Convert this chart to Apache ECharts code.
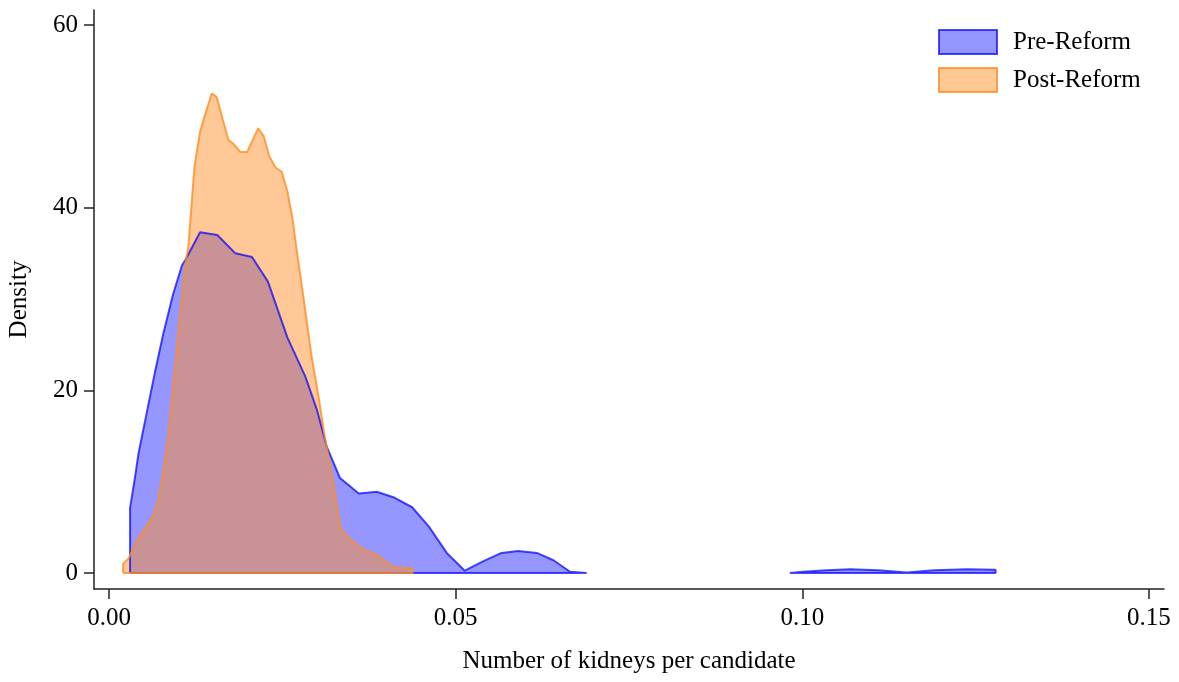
<!DOCTYPE html>
<html>
<head>
<meta charset="utf-8">
<script src="https://cdn.jsdelivr.net/npm/echarts@6/dist/echarts.min.js"></script>
<style>
  html, body { margin: 0; padding: 0; background: #fff; }
  #chart { width: 1179px; height: 682px; }
</style>
</head>
<body>
<div id="chart"></div>
<script>
// density estimates; null = gap in the curve
var preX = [0.0030, 0.0030, 0.0037, 0.0042, 0.0054, 0.0066, 0.0078, 0.0092, 0.0105, 0.0110, 0.0131, 0.0156, 0.0182, 0.0206, 0.0229, 0.0257, 0.0283, 0.0300, 0.0314, 0.0333, 0.0360, 0.0386, 0.0410, 0.0437, 0.0461, 0.0487, 0.0513, 0.0540, 0.0566, 0.0590, 0.0617, 0.0641, 0.0665, 0.0689, 0.0030,
  null,
  0.0982, 0.1001, 0.1035, 0.1069, 0.1110, 0.1151, 0.1190, 0.1237, 0.1279, 0.1279, 0.0982];
var preY = [0, 7.1, 10.4, 13.0, 17.5, 22.0, 26.2, 30.5, 33.7, 34.3, 37.3, 37.0, 35.0, 34.6, 31.9, 25.8, 21.5, 17.8, 13.8, 10.4, 8.7, 8.9, 8.3, 7.2, 5.1, 2.2, 0.25, 1.3, 2.2, 2.4, 2.2, 1.4, 0.14, 0, 0,
  null,
  0, 0.15, 0.3, 0.4, 0.3, 0.05, 0.3, 0.4, 0.35, 0, 0];

var postX = [0.0020, 0.0020, 0.0028, 0.0040, 0.0050, 0.0063, 0.0071, 0.0078, 0.0086, 0.0100, 0.0110, 0.0114, 0.0123, 0.0131, 0.0138, 0.0148, 0.0155, 0.0164, 0.0172, 0.0179, 0.0189, 0.0199, 0.0215, 0.0223, 0.0231, 0.0240, 0.0249, 0.0257, 0.0264, 0.0270, 0.0280, 0.0292, 0.0302, 0.0311, 0.0323, 0.0333, 0.0343, 0.0367, 0.0376, 0.0388, 0.0405, 0.0413, 0.0437, 0.0438, 0.0020];
var postY = [0, 1.0, 1.6, 3.6, 4.7, 6.2, 8.1, 11.1, 15.4, 26.6, 33.9, 35.6, 44.5, 48.3, 50.1, 52.5, 52.1, 49.6, 47.4, 47.0, 46.1, 46.1, 48.7, 47.8, 45.6, 44.4, 43.9, 41.8, 39.0, 35.6, 30.3, 23.7, 19.3, 14.9, 10.0, 5.1, 4.0, 2.5, 2.3, 1.9, 0.9, 0.6, 0.5, 0, 0];

var xTicks = [0, 0.05, 0.10, 0.15];
var yTicks = [0, 20, 40, 60];
var seriesNames = ['Pre-Reform', 'Post-Reform'];

var font = 'Liberation Serif';
var blueLine = 'rgba(0,0,255,0.71)', blueFill = 'rgba(0,0,255,0.41)';
var orangeLine = 'rgba(255,140,35,0.8)', orangeFill = 'rgba(255,140,35,0.48)';

function zip(xs, ys) {
    return xs.map(function (x, i) { return x === null ? [null, null] : [x, ys[i]]; });
}

var chart = echarts.init(document.getElementById('chart'));

chart.setOption({
    animation: false,
    grid: {left: 94, right: 15, top: 10, bottom: 93, outerBoundsMode: 'none'},
    legend: {
        orient: 'vertical', left: 938, top: 29, padding: 0,
        itemWidth: 58, itemHeight: 24, itemGap: 12, icon: 'rect',
        textStyle: {fontFamily: font, fontSize: 25, color: '#000', padding: [0, 0, 0, 11]},
        data: [
            {name: seriesNames[0], itemStyle: {color: blueFill, borderColor: blueLine, borderWidth: 2}},
            {name: seriesNames[1], itemStyle: {color: orangeFill, borderColor: orangeLine, borderWidth: 2}}
        ]
    },
    xAxis: {
        type: 'value', min: -0.0022, max: 0.1522,
        name: 'Number of kidneys per candidate', nameLocation: 'middle', nameGap: 60,
        nameTextStyle: {fontFamily: font, fontSize: 25, color: '#000'},
        axisLine: {onZero: false, lineStyle: {color: '#222', width: 1.5}},
        axisTick: {inside: false, length: 10, customValues: xTicks, lineStyle: {color: '#222', width: 1.5}},
        axisLabel: {customValues: xTicks, margin: 17, fontFamily: font, fontSize: 25, color: '#000',
            formatter: function (v) { return v.toFixed(2); }},
        splitLine: {show: false}
    },
    yAxis: {
        type: 'value', min: -1.75, max: 61.64,
        name: 'Density', nameLocation: 'middle', nameGap: 62,
        nameTextStyle: {fontFamily: font, fontSize: 25, color: '#000'},
        axisLine: {show: true, onZero: false, lineStyle: {color: '#222', width: 1.5}},
        axisTick: {show: true, inside: false, length: 10, customValues: yTicks, lineStyle: {color: '#222', width: 1.5}},
        axisLabel: {customValues: yTicks, margin: 16, fontFamily: font, fontSize: 25, color: '#000'},
        splitLine: {show: false}
    },
    series: [
        {
            name: seriesNames[0], type: 'line', data: zip(preX, preY),
            showSymbol: false, connectNulls: false,
            lineStyle: {color: blueLine, width: 2},
            itemStyle: {color: blueLine},
            areaStyle: {color: blueFill, opacity: 1}
        },
        {
            name: seriesNames[1], type: 'line', data: zip(postX, postY),
            showSymbol: false,
            lineStyle: {color: orangeLine, width: 2},
            itemStyle: {color: orangeLine},
            areaStyle: {color: orangeFill, opacity: 1}
        }
    ]
});
</script>
</body>
</html>
